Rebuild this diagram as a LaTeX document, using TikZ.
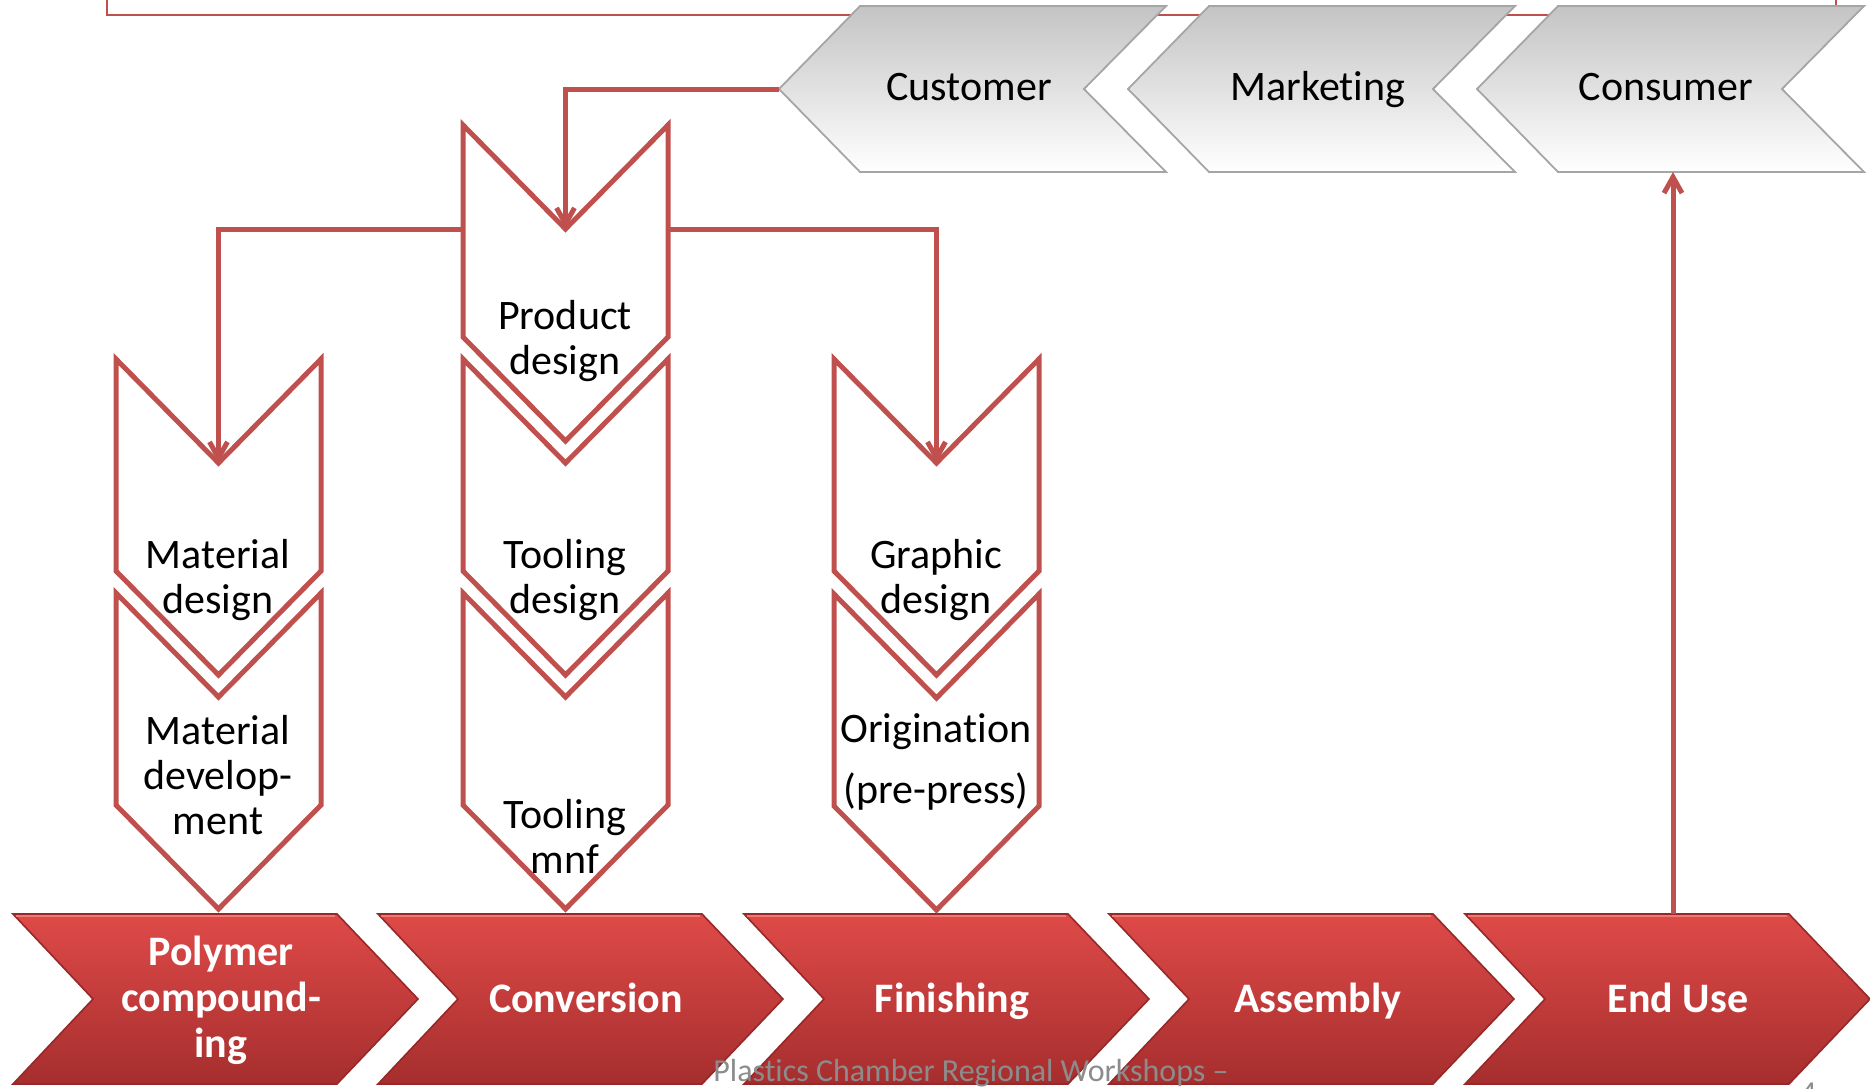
\documentclass[tikz,border=0pt]{standalone}
\usepackage{fontspec}
\setmainfont{Carlito}[Ligatures=NoCommon]
\usetikzlibrary{arrows.meta}
\definecolor{cred}{RGB}{192,80,77}
\definecolor{rtop}{RGB}{222,74,72}
\definecolor{rmid}{RGB}{205,62,60}
\definecolor{rbot}{RGB}{166,46,46}
\definecolor{redge}{RGB}{150,40,40}
\definecolor{rhigh}{RGB}{240,120,115}
\definecolor{gtop}{RGB}{196,196,196}
\definecolor{gedge}{RGB}{165,165,165}
\definecolor{footgray}{RGB}{140,140,140}
\tikzset{
  vch/.style={draw=cred, line width=2.5pt, fill=white, line join=miter},
  gch/.style={draw=gedge, line width=0.9pt, top color=gtop, middle color=gray!5, bottom color=white},
  rch/.style={draw=redge, line width=0.8pt, top color=rtop, middle color=rmid, bottom color=rbot},
  conn/.style={draw=cred, line width=2.5pt, -{Straight Barb[length=8pt,width=9pt]}},
  frame/.style={draw=cred, line width=1pt},
  vlbl/.style={font=\fontsize{21}{22.5}\selectfont, inner sep=0pt, anchor=base, text=black},
  tlbl/.style={font=\fontsize{21}{22.5}\selectfont, inner sep=0pt, anchor=base, text=black},
  blbl/.style={font=\fontsize{21}{23}\selectfont\bfseries, inner sep=0pt, anchor=base, text=white},
  foot/.style={font=\fontsize{16}{18}\selectfont, inner sep=0pt, anchor=base west, text=footgray}
}
% vertical (down-pointing) chevron: #1 name, #2 left x, #3 top y
\newcommand\vchev[3]{%
  \path[vch] (#2,#3) coordinate (#1-tl) -- (#2+102.5,#3+104) coordinate (#1-n)
    -- (#2+205,#3) coordinate (#1-tr) -- (#2+205,#3+212)
    -- (#2+102.5,#3+316) coordinate (#1-tip) -- (#2,#3+212) -- cycle;
  \coordinate (#1-l) at (#2,#3+104);
  \coordinate (#1-r) at (#2+205,#3+104);
}
% grey left-pointing chevron: #1 name, #2 top-left x
\newcommand\gchev[2]{%
  \path[gch] (#2,6) coordinate (#1-tl) -- (#2+306,6) -- (#2+224,89) -- (#2+306,172)
    -- (#2,172) coordinate (#1-bl) -- (#2-81,89) coordinate (#1-tip) -- cycle;
}
% red right-pointing chevron: #1 name, #2 top-left x
\newcommand\rchev[2]{%
  \path[rch] (#2,914) coordinate (#1-tl) -- (#2+324,914) -- (#2+405,999) -- (#2+324,1084)
    -- (#2,1084) -- (#2+80,999) -- cycle;
  \draw[rhigh, line width=1.2pt] (#2+3,916) -- (#2+322,916);
}
\begin{document}
\begin{tikzpicture}[x=0.5pt,y=-0.5pt]
\useasboundingbox (0,0) rectangle (1870,1088);
% frame behind the top chevrons
\draw[frame] (107,-30) -- (107,15) -- (1836,15) -- (1836,-30);
% top grey chevrons
\gchev{cust}{860}
\gchev{mark}{1209}
\gchev{cons}{1558}
\node[tlbl] (lcust) at (969,100) {Customer};
\node[tlbl] (lmark) at (1318,100) {Marketing};
\node[tlbl] (lcons) at (1666,100) {Consumer};
% bottom red chevrons
\rchev{poly}{13}
\rchev{conv}{378}
\rchev{fini}{744}
\rchev{asse}{1109}
\rchev{endu}{1465}
% vertical chevrons
\vchev{prod}{463}{125}
\vchev{matd}{116}{359}
\vchev{matv}{116}{593}
\vchev{tood}{463}{359}
\vchev{toom}{463}{593}
\vchev{grad}{834}{359}
\vchev{orig}{834}{594}
% connectors
\draw[conn] (cust-tip) -| (prod-n);
\draw[conn] (prod-l) -| (matd-n);
\draw[conn] (prod-r) -| (grad-n);
\coordinate (eu-a) at (1673,914);
\draw[conn] (eu-a) -- (eu-a |- cons-bl);
% labels in vertical chevrons
\node[vlbl] (lprod) at (565,329) {\begin{tabular}[t]{@{}c@{}}Product\\design\end{tabular}};
\node[vlbl] (lmatd) at (218,568) {\begin{tabular}[t]{@{}c@{}}Material\\design\end{tabular}};
\node[vlbl] (lmatv) at (218,744) {\begin{tabular}[t]{@{}c@{}}Material\\develop-\\ment\end{tabular}};
\node[vlbl] (ltood) at (565,568) {\begin{tabular}[t]{@{}c@{}}Tooling\\design\end{tabular}};
\node[vlbl] (ltoom) at (565,828) {\begin{tabular}[t]{@{}c@{}}Tooling\\mnf\end{tabular}};
\node[vlbl] (lgrad) at (936,568) {\begin{tabular}[t]{@{}c@{}}Graphic\\design\end{tabular}};
\node[vlbl] (lorig) at (936,742) {\begin{tabular}[t]{@{}c@{}}Origination\\[8pt](pre-press)\end{tabular}};
% labels in red chevrons
\node[blbl] (lpoly) at (221,965) {\begin{tabular}[t]{@{}c@{}}Polymer\\compound-\\ing\end{tabular}};
\node[blbl] (lconv) at (586,1012) {Conversion};
\node[blbl] (lfini) at (952,1012) {Finishing};
\node[blbl] (lasse) at (1318,1012) {Assembly};
\node[blbl] (lendu) at (1678,1012) {End Use};
% footer
\node[foot] (footer) at (713,1081) {Plastics Chamber Regional Workshops –};
\node[foot] (pagenum) at (1800,1103) {4};
\end{tikzpicture}
\end{document}
